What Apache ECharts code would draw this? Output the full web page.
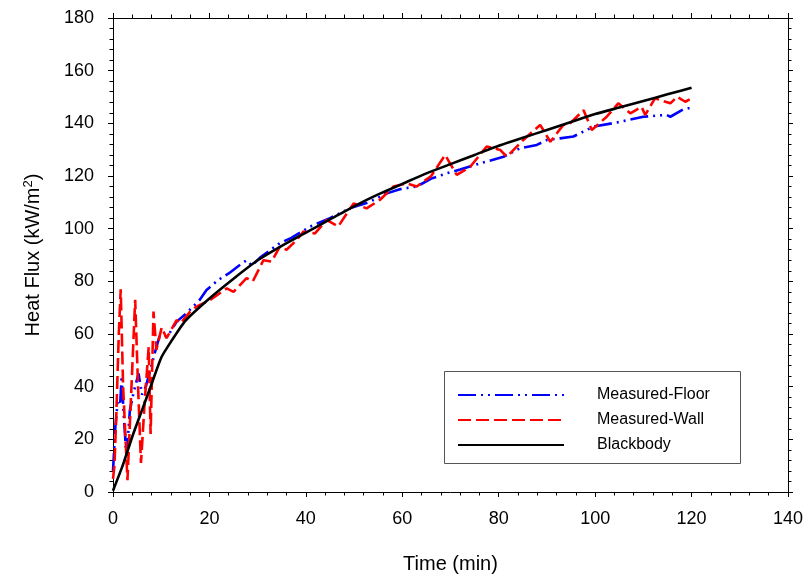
<!DOCTYPE html>
<html>
<head>
<meta charset="utf-8">
<script src="https://cdn.jsdelivr.net/npm/echarts@6/dist/echarts.min.js"></script>
<style>
html,body{margin:0;padding:0;background:#fff;}
#chart{width:810px;height:580px;}
</style>
</head>
<body>
<div id="chart"></div>
<script>
var seriesNames = ['Measured-Floor', 'Measured-Wall', 'Blackbody'];
var xTicks = [0, 20, 40, 60, 80, 100, 120, 140];
var yTicks = [0, 20, 40, 60, 80, 100, 120, 140, 160, 180];

var floorData = [[0,8],[0.5,25],[1.0,35],[1.5,34],[1.8,44],[2.2,30],[2.8,13],[3.5,31],[4.3,38],[5.3,45],[6,37],[6.8,40],[7.7,46],[8.7,53],[9.7,59.5],[11.5,59.6],[13.2,64.7],[15.3,68],[18,73],[19.4,76.7],[21.8,80.5],[24,83],[26.3,86.2],[27.7,88],[28.8,86],[30.5,89],[34.6,94.5],[37,96.5],[40.9,100.8],[45,104],[49.2,107.8],[53,110],[56.8,113.4],[59.5,115],[63,116],[66,119],[69.2,121],[72,122.5],[76.1,124.8],[81,127.3],[84.4,130.5],[87.9,131.8],[90,133.7],[92.7,134.3],[95.5,135],[99.6,138.7],[105,140.5],[110,142.5],[114.8,143.2],[115.6,142.5],[118.3,145.3],[120,146]];

var wallData = [[0,5],[0.3,10],[0.7,30],[1.2,60],[1.6,77],[2.1,40],[3.0,4.5],[3.6,30],[4.6,73],[5.2,40],[5.8,11],[6.6,35],[7.4,55],[7.8,22],[8.4,68.5],[9,54],[10.1,62.5],[11.1,58.4],[13.2,65.3],[14,64],[16,68.5],[17.3,70.4],[20.1,72.9],[23.6,77.3],[25,76],[27.7,81.2],[29,80],[31.2,88],[32.9,87.5],[34.6,93.2],[36,92],[38.1,95.7],[39.5,98.9],[41.9,98.2],[44.3,103.3],[46.7,100.8],[49.9,109.6],[52.6,107.7],[55.4,111],[58.2,116],[60.9,117.2],[63,116],[66,120],[68.9,128],[71.3,120.4],[74.1,123.5],[77.5,131.2],[80.3,129.9],[81.7,127.3],[85.1,133.7],[88.6,139.4],[90.7,133],[93.4,139.4],[94.8,140],[97.6,145],[99.3,137.5],[102.4,142.5],[104.8,147.6],[107.3,143.8],[109.6,146.3],[110.4,143.2],[112.4,149.5],[115.6,147.6],[117,150.1],[118.7,148.2],[120,149.5]];

var blackbodyData = [[0,0.5],[2,10],[4,21],[6,31],[8,41],[10,51],[12,57],[15,65],[20,73.5],[25,81],[30,88],[35,93.5],[40,98.5],[45,103.5],[50,108.5],[55,113],[60,117],[65,121],[70,124.5],[75,128],[80,131.5],[85,134.5],[90,137.5],[95,140.5],[100,143.5],[105,146],[110,148.5],[115,151],[120,153.5]];

var FONT = 'Liberation Sans, Arial, sans-serif';

function axisCommon(showLabels, isX) {
  var t = isX ? xTicks : yTicks;
  return {
    type: 'value',
    min: t[0],
    max: t[t.length - 1],
    interval: t[1] - t[0],
    axisLine: {show: true, onZero: false, lineStyle: {color: '#000', width: 1}},
    axisTick: {show: true, inside: false, length: 5, lineStyle: {color: '#000', width: 1}},
    minorTick: {show: true, splitNumber: 5, length: 3.5, lineStyle: {color: '#000', width: 1}},
    splitLine: {show: false},
    minorSplitLine: {show: false},
    axisLabel: {show: showLabels, color: '#000', fontSize: 18, fontFamily: FONT, margin: isX ? 18 : 19}
  };
}

var chart = echarts.init(document.getElementById('chart'), null, {renderer: 'canvas'});

var xBottom = axisCommon(true, true);
xBottom.position = 'bottom';
xBottom.name = 'Time (min)';
xBottom.nameLocation = 'middle';
xBottom.nameGap = 62;
xBottom.nameTextStyle = {color: '#000', fontSize: 20, fontFamily: FONT};

var xTop = axisCommon(false, true);
xTop.position = 'top';

var yLeft = axisCommon(true, false);
yLeft.position = 'left';
yLeft.name = 'Heat Flux (kW/m{sup|2})';
yLeft.nameLocation = 'middle';
yLeft.nameGap = 68;
yLeft.nameTextStyle = {color: '#000', fontSize: 20, fontFamily: FONT,
  rich: {sup: {fontSize: 13, fontFamily: FONT, color: '#000', verticalAlign: 'top', padding: [0, 0, 10, 0]}}};

var yRight = axisCommon(false, false);
yRight.position = 'right';

var option = {
  backgroundColor: '#fff',
  animation: false,
  grid: {left: 113, right: 22, top: 18, bottom: 88, containLabel: false},
  xAxis: [xBottom, xTop],
  yAxis: [yLeft, yRight],
  legend: {
    orient: 'vertical',
    left: 457,
    top: 387,
    padding: 0,
    itemWidth: 106,
    itemHeight: 14,
    itemGap: 9,
    data: seriesNames,
    itemStyle: {opacity: 0},
    textStyle: {color: '#000', fontSize: 16, fontFamily: FONT, padding: [0, 0, 0, 28]},
    selectedMode: false
  },
  graphic: [{
    type: 'rect',
    shape: {x: 444.5, y: 371.5, width: 296, height: 92},
    style: {fill: 'none', stroke: '#555', lineWidth: 1},
    silent: true,
    z: 0
  }],
  series: [
    {
      name: seriesNames[0], type: 'line', data: floorData, xAxisIndex: 0, yAxisIndex: 0,
      showSymbol: false, symbol: 'none',
      lineStyle: {color: '#0000ff', width: 2.6, type: [18, 5, 2, 5, 2, 5]},
      itemStyle: {color: '#0000ff'}
    },
    {
      name: seriesNames[1], type: 'line', data: wallData, xAxisIndex: 0, yAxisIndex: 0,
      showSymbol: false, symbol: 'none',
      lineStyle: {color: '#ff0000', width: 2.6, type: [13, 5]},
      itemStyle: {color: '#ff0000'}
    },
    {
      name: seriesNames[2], type: 'line', data: blackbodyData, xAxisIndex: 0, yAxisIndex: 0,
      showSymbol: false, symbol: 'none', smooth: 0.2,
      lineStyle: {color: '#000000', width: 2.6, type: 'solid'},
      itemStyle: {color: '#000000'},
      z: 3
    }
  ]
};
chart.setOption(option);
</script>
</body>
</html>
